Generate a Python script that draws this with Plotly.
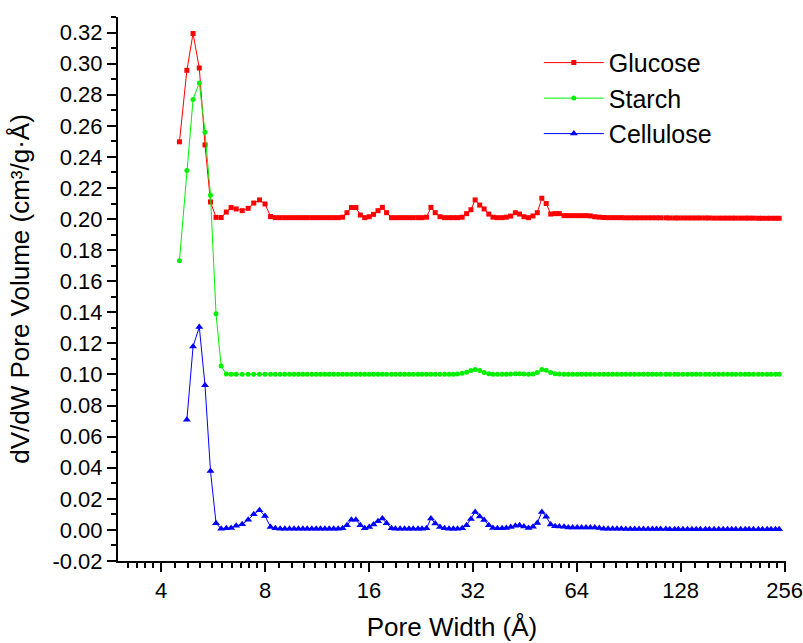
import plotly.graph_objects as go
import math

# Pore widths (Å)
pore_width = [
    4.52, 4.75, 4.95, 5.16, 5.36, 5.56, 5.77, 5.97, 6.18, 6.38, 6.60, 6.87, 7.15, 7.42, 7.71, 8.00,
    8.30, 8.57, 8.85, 9.13, 9.42, 9.71, 10.0, 10.3, 10.6, 10.93,
    11.25, 11.58, 11.93, 12.28, 12.65, 13.03, 13.42, 13.82, 14.24, 14.67,
    15.11, 15.56, 16.03, 16.5, 17.0, 17.5, 18.0, 18.6, 19.1, 19.7,
    20.3, 20.9, 21.5, 22.2, 22.8, 23.5, 24.2, 24.9, 25.7, 26.5,
    27.3, 28.1, 28.9, 29.8, 30.7, 31.6, 32.5, 33.5, 34.5, 35.6,
    36.6, 37.7, 38.9, 40.0, 41.2, 42.5, 43.7, 45.0, 46.4, 47.8,
    49.2, 50.7, 52.2, 53.8, 55.4, 57.0, 58.8, 60.5, 62.3, 64.2,
    66.1, 68.1, 70.1, 72.2, 74.4, 76.6, 78.9, 81.3, 83.7, 86.2,
    88.8, 91.5, 94.2, 97.0, 99.9, 103, 106, 109, 112, 116,
    119, 123, 126, 130, 134, 138, 142, 146, 151, 155,
    160, 165, 170, 175, 180, 185, 191, 197, 202, 208,
    215, 221, 228, 234, 241, 247,
]

glucose = [
    0.2497, 0.2957, 0.3194, 0.2972, 0.2477, 0.2110, 0.2011, 0.2010, 0.2045, 0.2074, 0.2065, 0.2054, 0.2069, 0.2103, 0.2123, 0.2097,
    0.2016, 0.2009, 0.2009, 0.2009, 0.2009, 0.2009, 0.2009, 0.2009, 0.2009, 0.2009,
    0.2009, 0.2009, 0.2009, 0.2009, 0.2009, 0.2009, 0.2012, 0.2041, 0.2074, 0.2074,
    0.2026, 0.2009, 0.2015, 0.2030, 0.2054, 0.2075, 0.2041, 0.2009, 0.2009, 0.2009,
    0.2009, 0.2009, 0.2009, 0.2009, 0.2009, 0.2012, 0.2075, 0.2041, 0.2015, 0.2009,
    0.2009, 0.2009, 0.2009, 0.2012, 0.2035, 0.2060, 0.2123, 0.2090, 0.2065, 0.2032,
    0.2012, 0.2009, 0.2009, 0.2012, 0.2019, 0.2041, 0.2032, 0.2015, 0.2009, 0.2020,
    0.2041, 0.2134, 0.2100, 0.2032, 0.2035, 0.2035, 0.2022, 0.2022, 0.2022, 0.2022,
    0.2022, 0.2022, 0.2020, 0.2015, 0.2012, 0.2010, 0.2009, 0.2009, 0.2009, 0.2009,
    0.2008, 0.2008, 0.2008, 0.2008, 0.2008, 0.2008, 0.2008, 0.2008, 0.2008, 0.2008,
    0.2007, 0.2007, 0.2007, 0.2007, 0.2007, 0.2007, 0.2007, 0.2007, 0.2007, 0.2007,
    0.2006, 0.2006, 0.2006, 0.2006, 0.2006, 0.2006, 0.2006, 0.2006, 0.2006, 0.2006,
    0.2005, 0.2005, 0.2005, 0.2005, 0.2005, 0.2005,
]

starch = [
    0.1732, 0.2312, 0.2770, 0.2876, 0.2559, 0.2153, 0.1390, 0.1054, 0.1003, 0.1002, 0.1001, 0.1001, 0.1001, 0.1001, 0.1001, 0.1001,
    0.1001, 0.1001, 0.1001, 0.1001, 0.1001, 0.1001, 0.1001, 0.1001, 0.1001, 0.1001,
    0.1001, 0.1001, 0.1001, 0.1001, 0.1001, 0.1001, 0.1001, 0.1001, 0.1001, 0.1001,
    0.1001, 0.1001, 0.1001, 0.1001, 0.1001, 0.1001, 0.1001, 0.1001, 0.1001, 0.1001,
    0.1001, 0.1001, 0.1001, 0.1001, 0.1001, 0.1001, 0.1001, 0.1001, 0.1001, 0.1001,
    0.1001, 0.1001, 0.1003, 0.1008, 0.1015, 0.1026, 0.1032, 0.1026, 0.1012, 0.1005,
    0.1002, 0.1001, 0.1001, 0.1002, 0.1003, 0.1004, 0.1004, 0.1003, 0.1002, 0.1003,
    0.1012, 0.1032, 0.1028, 0.1012, 0.1005, 0.1003, 0.1002, 0.1002, 0.1002, 0.1002,
    0.1002, 0.1002, 0.1002, 0.1002, 0.1001, 0.1001, 0.1001, 0.1001, 0.1001, 0.1001,
    0.1001, 0.1001, 0.1001, 0.1001, 0.1001, 0.1001, 0.1001, 0.1001, 0.1001, 0.1001,
    0.1001, 0.1001, 0.1001, 0.1001, 0.1001, 0.1001, 0.1001, 0.1001, 0.1001, 0.1001,
    0.1001, 0.1001, 0.1001, 0.1001, 0.1001, 0.1001, 0.1001, 0.1001, 0.1001, 0.1001,
    0.1001, 0.1001, 0.1001, 0.1001, 0.1001, 0.1001,
]

cellulose = [
    None, 0.0708, 0.1180, 0.1306, 0.0930, 0.0379, 0.0043, 0.0008, 0.0010, 0.0013, 0.0026, 0.0037, 0.0065, 0.0101, 0.0127, 0.0090,
    0.0019, 0.0010, 0.0008, 0.0008, 0.0008, 0.0008, 0.0008, 0.0008, 0.0008, 0.0008,
    0.0008, 0.0008, 0.0008, 0.0008, 0.0008, 0.0008, 0.0010, 0.0030, 0.0065, 0.0065,
    0.0030, 0.0010, 0.0019, 0.0035, 0.0055, 0.0074, 0.0043, 0.0010, 0.0008, 0.0008,
    0.0008, 0.0008, 0.0008, 0.0008, 0.0008, 0.0010, 0.0074, 0.0041, 0.0019, 0.0010,
    0.0008, 0.0008, 0.0008, 0.0010, 0.0030, 0.0070, 0.0116, 0.0086, 0.0063, 0.0030,
    0.0012, 0.0010, 0.0010, 0.0013, 0.0019, 0.0026, 0.0030, 0.0022, 0.0013, 0.0020,
    0.0045, 0.0116, 0.0085, 0.0035, 0.0024, 0.0022, 0.0020, 0.0015, 0.0015, 0.0015,
    0.0015, 0.0015, 0.0015, 0.0015, 0.0012, 0.0008, 0.0007, 0.0007, 0.0007, 0.0007,
    0.0006, 0.0006, 0.0006, 0.0006, 0.0006, 0.0006, 0.0006, 0.0006, 0.0006, 0.0006,
    0.0005, 0.0005, 0.0005, 0.0005, 0.0005, 0.0005, 0.0005, 0.0005, 0.0005, 0.0005,
    0.0005, 0.0005, 0.0005, 0.0005, 0.0005, 0.0005, 0.0005, 0.0005, 0.0005, 0.0005,
    0.0004, 0.0004, 0.0004, 0.0004, 0.0004, 0.0004,
]

x_tick_vals = [4, 8, 16, 32, 64, 128, 256]
x_tick_text = ["4", "8", "16", "32", "64", "128", "256"]

y_tick_vals = [-0.02, 0.00, 0.02, 0.04, 0.06, 0.08, 0.10, 0.12, 0.14, 0.16,
               0.18, 0.20, 0.22, 0.24, 0.26, 0.28, 0.30, 0.32]
y_tick_text = ["-0.02", "0.00", "0.02", "0.04", "0.06", "0.08", "0.10", "0.12", "0.14", "0.16",
               "0.18", "0.20", "0.22", "0.24", "0.26", "0.28", "0.30", "0.32"]

# minor ticks: 9 linear subdivisions per octave
minor_vals = []
for base in [2, 4, 8, 16, 32, 64, 128]:
    for k in range(1, 10):
        v = base * (1 + k / 10)
        if 3.0 < v < 258:
            minor_vals.append(v)

FONT = "Liberation Sans, Arial, sans-serif"

fig = go.Figure()
fig.add_trace(go.Scatter(
    x=pore_width, y=glucose, name="Glucose", mode="lines+markers",
    line=dict(color="#FF0000", width=1),
    marker=dict(symbol="square", size=5, color="#FF0000"),
))
fig.add_trace(go.Scatter(
    x=pore_width, y=starch, name="Starch", mode="lines+markers",
    line=dict(color="#00F000", width=1),
    marker=dict(symbol="circle", size=5, color="#00F000"),
))
fig.add_trace(go.Scatter(
    x=pore_width, y=cellulose, name="Cellulose", mode="lines+markers",
    line=dict(color="#0000FF", width=1),
    marker=dict(symbol="triangle-up", size=7, color="#0000FF"),
))

fig.update_layout(
    width=803, height=643,
    margin=dict(l=118, r=17, t=17, b=82),
    paper_bgcolor="white", plot_bgcolor="white",
    font=dict(family=FONT, color="black", size=22),
    legend=dict(
        x=0.63, y=0.958, xanchor="left", yanchor="top",
        font=dict(size=25, family=FONT, color="black"),
        bgcolor="rgba(0,0,0,0)", itemwidth=60, tracegroupgap=0,
    ),
    showlegend=True,
)

fig.update_xaxes(
    type="log", automargin=False,
    range=[math.log10(3.0), math.log10(258.5)],
    tickmode="array", tickvals=x_tick_vals, ticktext=x_tick_text,
    ticks="outside", ticklen=9, tickwidth=2, tickcolor="black",
    showline=True, linecolor="black", linewidth=2, mirror=False,
    showgrid=False, zeroline=False,
    tickfont=dict(size=22, family=FONT, color="black"),
    title=dict(text="Pore Width (Å)", font=dict(size=26, family=FONT, color="black")),
    minor=dict(tickmode="array", tickvals=minor_vals, ticks="outside", ticklen=5,
               tickwidth=1.5, tickcolor="black", showgrid=False),
)

fig.update_yaxes(
    automargin=False,
    range=[-0.02, 0.33],
    tickmode="array", tickvals=y_tick_vals, ticktext=y_tick_text,
    ticks="outside", ticklen=9, tickwidth=2, tickcolor="black",
    showline=True, linecolor="black", linewidth=2, mirror=False,
    showgrid=False, zeroline=False,
    tickfont=dict(size=22, family=FONT, color="black"),
    title=dict(text="dV/dW Pore Volume (cm³/g·Å)", font=dict(size=26, family=FONT, color="black")),
    minor=dict(tickmode="linear", tick0=-0.01, dtick=0.02, ticks="outside", ticklen=5, tickwidth=1.5,
               tickcolor="black", showgrid=False),
)

fig.write_html("out.html")
